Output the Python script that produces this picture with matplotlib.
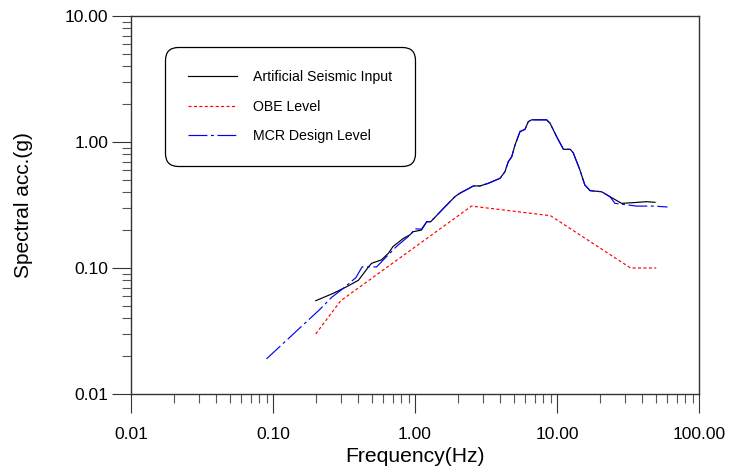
import numpy as np
import matplotlib
matplotlib.use('Agg')
import matplotlib.pyplot as plt
from matplotlib.ticker import LogLocator, FixedFormatter, NullFormatter

plt.rcParams['font.family'] = ['Liberation Sans', 'DejaVu Sans']

# Artificial seismic input (black)
art_freq = [0.20, 0.266, 0.33, 0.40, 0.47, 0.495, 0.58, 0.65, 0.70, 0.83, 0.92,
            0.97, 1.11, 1.21, 1.29, 1.59, 1.91, 2.07, 2.58, 2.87, 3.28, 3.97,
            4.30, 4.54, 4.80, 5.06, 5.49, 5.95, 6.28, 6.63, 8.45, 8.93, 9.95,
            11.1, 12.4, 13.0, 14.5, 15.7, 17.1, 20.6, 23.6, 28.5, 34.4, 42.8, 49.0]
art_acc = [0.055, 0.063, 0.071, 0.080, 0.102, 0.109, 0.116, 0.131, 0.148, 0.172, 0.183,
           0.194, 0.200, 0.233, 0.233, 0.298, 0.368, 0.392, 0.448, 0.448, 0.470, 0.515,
           0.581, 0.698, 0.764, 0.946, 1.21, 1.26, 1.45, 1.50, 1.50, 1.41, 1.10,
           0.875, 0.875, 0.822, 0.60, 0.456, 0.411, 0.403, 0.368, 0.326, 0.330, 0.336, 0.332]

# OBE level (red)
obe_freq = [0.20, 0.30, 2.5, 9.0, 33.0, 50.0]
obe_acc = [0.030, 0.055, 0.31, 0.26, 0.10, 0.10]

# MCR design level (blue)
mcr_freq = [0.09, 0.214, 0.259, 0.313, 0.384, 0.424, 0.536, 0.612, 0.74, 0.924,
            1.0, 1.11, 1.21, 1.29, 1.59, 1.91, 2.07, 2.58, 2.87, 3.28, 3.97,
            4.30, 4.54, 4.80, 5.06, 5.49, 5.95, 6.28, 6.63, 8.45, 8.93, 9.95,
            11.1, 12.4, 13.0, 14.5, 15.7, 17.1, 20.6, 23.6, 25.6, 36.4, 47.5, 60.0]
mcr_acc = [0.019, 0.047, 0.0585, 0.069, 0.084, 0.102, 0.102, 0.119, 0.148, 0.183,
           0.205, 0.203, 0.233, 0.233, 0.298, 0.368, 0.392, 0.448, 0.448, 0.470, 0.515,
           0.581, 0.698, 0.764, 0.946, 1.21, 1.26, 1.45, 1.50, 1.50, 1.41, 1.10,
           0.875, 0.875, 0.822, 0.60, 0.456, 0.411, 0.403, 0.368, 0.326, 0.31, 0.31, 0.305]

x_ticks = [0.01, 0.1, 1, 10, 100]
x_labels = ['0.01', '0.10', '1.00', '10.00', '100.00']
y_ticks = [0.01, 0.1, 1, 10]
y_labels = ['0.01', '0.10', '1.00', '10.00']

fig = plt.figure(figsize=(7.29, 4.72), dpi=100)
ax = fig.add_axes([131 / 729, 1 - 394 / 472, 568 / 729, 378 / 472])

ax.plot(art_freq, art_acc, color='black', lw=0.85, label='Artificial Seismic Input')
ax.plot(obe_freq, obe_acc, color='#ff0000', lw=0.85, dashes=(2.6, 2.0), label='OBE Level')
ax.plot(mcr_freq, mcr_acc, color='#0000ff', lw=0.85, dashes=(16, 3, 2.5, 3), label='MCR Design Level')

ax.set_xscale('log')
ax.set_yscale('log')
ax.set_xlim(0.01, 100)
ax.set_ylim(0.01, 10)

ax.set_xticks(x_ticks)
ax.xaxis.set_major_formatter(FixedFormatter(x_labels))
ax.set_yticks(y_ticks)
ax.yaxis.set_major_formatter(FixedFormatter(y_labels))
ax.xaxis.set_minor_locator(LogLocator(base=10, subs=np.arange(2, 10)))
ax.yaxis.set_minor_locator(LogLocator(base=10, subs=np.arange(2, 10)))
ax.xaxis.set_minor_formatter(NullFormatter())
ax.yaxis.set_minor_formatter(NullFormatter())

ax.tick_params(which='major', direction='out', length=13.5, width=0.8, labelsize=12.6, color='#333333')
ax.tick_params(which='minor', direction='out', length=6.5, width=0.8, color='#555555')
ax.tick_params(axis='x', which='major', pad=10)
ax.tick_params(axis='y', which='major', pad=3)

for s in ax.spines.values():
    s.set_color('#333333')
    s.set_linewidth(1.0)

ax.set_xlabel('Frequency(Hz)', fontsize=15.2, labelpad=4)
ax.set_ylabel('Spectral acc.(g)', fontsize=15, labelpad=23)

leg = ax.legend(loc='upper left', bbox_to_anchor=(0.06, 0.918), borderaxespad=0,
                fontsize=10.2, handlelength=3.5, handletextpad=1.1,
                borderpad=1.6, labelspacing=1.12, fancybox=True, framealpha=1)
frame = leg.get_frame()
frame.set_edgecolor('black')
frame.set_linewidth(0.9)
frame.set_boxstyle('round', pad=0, rounding_size=0.9)

fig.savefig('out.png', dpi=100)
